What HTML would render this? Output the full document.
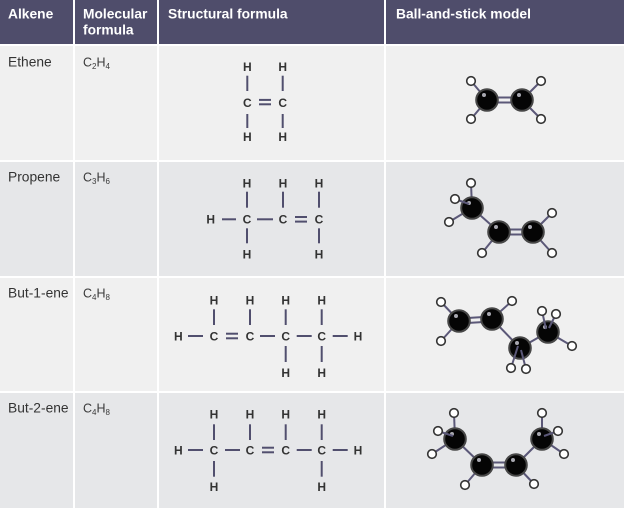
<!DOCTYPE html>
<html><head><meta charset="utf-8"><style>
html,body{margin:0;padding:0;background:#fff;}
svg{display:block;}
.hd{font-family:"Liberation Sans",Arial,sans-serif;font-size:13.8px;font-weight:bold;fill:#fff;}
.bd{font-family:"Liberation Sans",Arial,sans-serif;font-size:13.8px;fill:#333;}
.fm{font-family:"Liberation Sans",Arial,sans-serif;font-size:12.5px;fill:#3a3a3a;}
.at{font-family:"Liberation Sans",Arial,sans-serif;font-size:12px;font-weight:bold;fill:#333;text-anchor:middle;}
.sb line{stroke:#514f6e;stroke-width:2;}
.mb line{stroke:#5b5878;stroke-width:2;}
.c{fill:#050505;stroke:#474747;stroke-width:2;}
.hl{fill:#a8a8b0;}
.h{fill:#fff;stroke:#333;stroke-width:1.6;}
</style></head><body>
<svg width="624" height="508" viewBox="0 0 624 508" xmlns="http://www.w3.org/2000/svg">
<rect x="0" y="0" width="624" height="508" fill="#fff"/>
<!-- header -->
<g fill="#4f4d6b">
<rect x="0" y="0" width="73" height="44"/>
<rect x="75" y="0" width="82" height="44"/>
<rect x="159" y="0" width="225" height="44"/>
<rect x="386" y="0" width="238" height="44"/>
</g>
<!-- rows -->
<g fill="#f0f0f0">
<rect x="0" y="46" width="73" height="114"/><rect x="75" y="46" width="82" height="114"/><rect x="159" y="46" width="225" height="114"/><rect x="386" y="46" width="238" height="114"/>
<rect x="0" y="278" width="73" height="113"/><rect x="75" y="278" width="82" height="113"/><rect x="159" y="278" width="225" height="113"/><rect x="386" y="278" width="238" height="113"/>
</g>
<g fill="#e6e7e9">
<rect x="0" y="162" width="73" height="114"/><rect x="75" y="162" width="82" height="114"/><rect x="159" y="162" width="225" height="114"/><rect x="386" y="162" width="238" height="114"/>
<rect x="0" y="393" width="73" height="115"/><rect x="75" y="393" width="82" height="115"/><rect x="159" y="393" width="225" height="115"/><rect x="386" y="393" width="238" height="115"/>
</g>

<!-- header text -->
<text class="hd" x="8" y="18.5">Alkene</text>
<text class="hd" x="83" y="18.5">Molecular</text>
<text class="hd" x="83" y="34.5">formula</text>
<text class="hd" x="168" y="18.5">Structural formula</text>
<text class="hd" x="396" y="18.5">Ball-and-stick model</text>

<!-- names -->
<text class="bd" x="8" y="66.5">Ethene</text>
<text class="bd" x="8" y="181.5">Propene</text>
<text class="bd" x="8" y="297.5">But-1-ene</text>
<text class="bd" x="8" y="412.5">But-2-ene</text>

<!-- molecular formulas -->
<text class="fm" x="83" y="66.5">C<tspan font-size="8" dy="2.5">2</tspan><tspan dy="-2.5">H</tspan><tspan font-size="8" dy="2.5">4</tspan></text>
<text class="fm" x="83" y="181.5">C<tspan font-size="8" dy="2.5">3</tspan><tspan dy="-2.5">H</tspan><tspan font-size="8" dy="2.5">6</tspan></text>
<text class="fm" x="83" y="297.5">C<tspan font-size="8" dy="2.5">4</tspan><tspan dy="-2.5">H</tspan><tspan font-size="8" dy="2.5">8</tspan></text>
<text class="fm" x="83" y="412.5">C<tspan font-size="8" dy="2.5">4</tspan><tspan dy="-2.5">H</tspan><tspan font-size="8" dy="2.5">8</tspan></text>

<!-- Ethene structural -->
<g class="sb">
<line x1="247.3" y1="75.7" x2="247.3" y2="91"/><line x1="282.7" y1="75.7" x2="282.7" y2="91"/>
<line x1="247.3" y1="114" x2="247.3" y2="128"/><line x1="282.7" y1="114" x2="282.7" y2="128"/>
<line x1="259" y1="99.9" x2="271" y2="99.9"/><line x1="259" y1="104.3" x2="271" y2="104.3"/>
</g>
<text class="at" x="247.3" y="71">H</text><text class="at" x="282.7" y="71">H</text>
<text class="at" x="247.3" y="106.8">C</text><text class="at" x="282.7" y="106.8">C</text>
<text class="at" x="247.3" y="141">H</text><text class="at" x="282.7" y="141">H</text>

<!-- Propene structural -->
<g class="sb">
<line x1="247" y1="191.7" x2="247" y2="207.7"/><line x1="283" y1="191.7" x2="283" y2="207.7"/><line x1="319" y1="191.7" x2="319" y2="207.7"/>
<line x1="247" y1="228.3" x2="247" y2="243.3"/><line x1="319" y1="228.3" x2="319" y2="243.3"/>
<line x1="222" y1="219.3" x2="236" y2="219.3"/><line x1="257" y1="219.3" x2="273" y2="219.3"/>
<line x1="295" y1="217" x2="307" y2="217"/><line x1="295" y1="221.6" x2="307" y2="221.6"/>
</g>
<text class="at" x="247" y="187.6">H</text><text class="at" x="283" y="187.6">H</text><text class="at" x="319" y="187.6">H</text>
<text class="at" x="210.7" y="223.6">H</text><text class="at" x="247" y="223.6">C</text><text class="at" x="283" y="223.6">C</text><text class="at" x="319" y="223.6">C</text>
<text class="at" x="247" y="258.6">H</text><text class="at" x="319" y="258.6">H</text>

<!-- But-1-ene structural -->
<g class="sb">
<line x1="214" y1="309.3" x2="214" y2="325"/><line x1="250" y1="309.3" x2="250" y2="325"/><line x1="285.7" y1="309.3" x2="285.7" y2="325"/><line x1="321.7" y1="309.3" x2="321.7" y2="325"/>
<line x1="285.7" y1="346" x2="285.7" y2="362"/><line x1="321.7" y1="346" x2="321.7" y2="362"/>
<line x1="188" y1="336" x2="203" y2="336"/>
<line x1="226" y1="333.7" x2="238" y2="333.7"/><line x1="226" y1="338.3" x2="238" y2="338.3"/>
<line x1="260" y1="336" x2="275" y2="336"/><line x1="296.7" y1="336" x2="311.7" y2="336"/><line x1="332.7" y1="336" x2="347.7" y2="336"/>
</g>
<text class="at" x="214" y="304.3">H</text><text class="at" x="250" y="304.3">H</text><text class="at" x="285.7" y="304.3">H</text><text class="at" x="321.7" y="304.3">H</text>
<text class="at" x="178.3" y="340.3">H</text><text class="at" x="214" y="340.3">C</text><text class="at" x="250" y="340.3">C</text><text class="at" x="285.7" y="340.3">C</text><text class="at" x="321.7" y="340.3">C</text><text class="at" x="358" y="340.3">H</text>
<text class="at" x="285.7" y="377">H</text><text class="at" x="321.7" y="377">H</text>

<!-- But-2-ene structural -->
<g class="sb">
<line x1="214" y1="424.3" x2="214" y2="440"/><line x1="250" y1="424.3" x2="250" y2="440"/><line x1="285.7" y1="424.3" x2="285.7" y2="440"/><line x1="321.7" y1="424.3" x2="321.7" y2="440"/>
<line x1="214" y1="461" x2="214" y2="476.7"/><line x1="321.7" y1="461" x2="321.7" y2="476.7"/>
<line x1="188" y1="450" x2="203" y2="450"/><line x1="225" y1="450" x2="240" y2="450"/>
<line x1="262" y1="447.7" x2="274" y2="447.7"/><line x1="262" y1="452.3" x2="274" y2="452.3"/>
<line x1="296.7" y1="450" x2="311.7" y2="450"/><line x1="332.7" y1="450" x2="347.7" y2="450"/>
</g>
<text class="at" x="214" y="418.6">H</text><text class="at" x="250" y="418.6">H</text><text class="at" x="285.7" y="418.6">H</text><text class="at" x="321.7" y="418.6">H</text>
<text class="at" x="178.3" y="454.3">H</text><text class="at" x="214" y="454.3">C</text><text class="at" x="250" y="454.3">C</text><text class="at" x="285.7" y="454.3">C</text><text class="at" x="321.7" y="454.3">C</text><text class="at" x="358" y="454.3">H</text>
<text class="at" x="214" y="491">H</text><text class="at" x="321.7" y="491">H</text>

<!-- Ethene ball-and-stick -->
<g class="mb">
<line x1="487" y1="100" x2="471" y2="81"/><line x1="487" y1="100" x2="471" y2="119"/>
<line x1="522" y1="100" x2="541" y2="81"/><line x1="522" y1="100" x2="541" y2="119"/>
<line x1="487" y1="97.5" x2="522" y2="97.5"/><line x1="487" y1="102.5" x2="522" y2="102.5"/>
</g>
<circle class="c" cx="487" cy="100" r="10.8"/><circle class="c" cx="522" cy="100" r="10.8"/>
<circle class="hl" cx="484" cy="95" r="2"/><circle class="hl" cx="519" cy="95" r="2"/>
<circle class="h" cx="471" cy="81" r="4.3"/><circle class="h" cx="471" cy="119" r="4.3"/>
<circle class="h" cx="541" cy="81" r="4.3"/><circle class="h" cx="541" cy="119" r="4.3"/>

<!-- Propene ball-and-stick -->
<g class="mb">
<line x1="472" y1="208" x2="471" y2="183"/><line x1="472" y1="208" x2="449" y2="222"/>
<line x1="472" y1="208" x2="499" y2="232"/>
<line x1="499" y1="232" x2="482" y2="253"/>
<line x1="499" y1="229.5" x2="533" y2="229.5"/><line x1="499" y1="234.5" x2="533" y2="234.5"/>
<line x1="533" y1="232" x2="552" y2="213"/><line x1="533" y1="232" x2="552" y2="253"/>
</g>
<circle class="c" cx="472" cy="208" r="10.8"/><circle class="c" cx="499" cy="232" r="10.8"/><circle class="c" cx="533" cy="232" r="10.8"/>
<circle class="hl" cx="469" cy="203" r="2"/><circle class="hl" cx="496" cy="227" r="2"/><circle class="hl" cx="530" cy="227" r="2"/>
<g class="mb"><line x1="469" y1="204" x2="455" y2="199"/></g>
<circle class="h" cx="471" cy="183" r="4.3"/><circle class="h" cx="455" cy="199" r="4.3"/><circle class="h" cx="449" cy="222" r="4.3"/>
<circle class="h" cx="482" cy="253" r="4.3"/><circle class="h" cx="552" cy="213" r="4.3"/><circle class="h" cx="552" cy="253" r="4.3"/>

<!-- But-1-ene ball-and-stick -->
<g class="mb">
<line x1="459" y1="321" x2="441" y2="302"/><line x1="459" y1="321" x2="441" y2="341"/>
<line x1="459" y1="318.5" x2="492" y2="316.5"/><line x1="459" y1="323.5" x2="492" y2="321.5"/>
<line x1="492" y1="319" x2="512" y2="301"/>
<line x1="492" y1="319" x2="520" y2="348"/>
<line x1="520" y1="348" x2="548" y2="332"/>
<line x1="548" y1="332" x2="572" y2="346"/>
</g>
<circle class="c" cx="459" cy="321" r="10.8"/><circle class="c" cx="492" cy="319" r="10.8"/><circle class="c" cx="520" cy="348" r="10.8"/><circle class="c" cx="548" cy="332" r="10.8"/>
<circle class="hl" cx="456" cy="316" r="2"/><circle class="hl" cx="489" cy="314" r="2"/><circle class="hl" cx="517" cy="343" r="2"/><circle class="hl" cx="545" cy="327" r="2"/>
<g class="mb">
<line x1="518" y1="346" x2="511" y2="368"/><line x1="521" y1="350" x2="526" y2="369"/>
<line x1="546" y1="329" x2="542" y2="311"/><line x1="549" y1="328" x2="556" y2="314"/>
</g>
<circle class="h" cx="441" cy="302" r="4.3"/><circle class="h" cx="441" cy="341" r="4.3"/><circle class="h" cx="512" cy="301" r="4.3"/>
<circle class="h" cx="511" cy="368" r="4.3"/><circle class="h" cx="526" cy="369" r="4.3"/>
<circle class="h" cx="542" cy="311" r="4.3"/><circle class="h" cx="556" cy="314" r="4.3"/><circle class="h" cx="572" cy="346" r="4.3"/>

<!-- But-2-ene ball-and-stick -->
<g class="mb">
<line x1="455" y1="439" x2="454" y2="413"/><line x1="455" y1="439" x2="432" y2="454"/>
<line x1="455" y1="439" x2="482" y2="465"/>
<line x1="482" y1="465" x2="465" y2="485"/>
<line x1="482" y1="462.5" x2="516" y2="462.5"/><line x1="482" y1="467.5" x2="516" y2="467.5"/>
<line x1="516" y1="465" x2="534" y2="484"/>
<line x1="516" y1="465" x2="542" y2="439"/>
<line x1="542" y1="439" x2="542" y2="413"/><line x1="542" y1="439" x2="564" y2="454"/>
</g>
<circle class="c" cx="455" cy="439" r="10.8"/><circle class="c" cx="482" cy="465" r="10.8"/><circle class="c" cx="516" cy="465" r="10.8"/><circle class="c" cx="542" cy="439" r="10.8"/>
<circle class="hl" cx="452" cy="434" r="2"/><circle class="hl" cx="479" cy="460" r="2"/><circle class="hl" cx="513" cy="460" r="2"/><circle class="hl" cx="539" cy="434" r="2"/>
<g class="mb">
<line x1="453" y1="436" x2="438" y2="431"/><line x1="544" y1="436" x2="558" y2="431"/>
</g>
<circle class="h" cx="454" cy="413" r="4.3"/><circle class="h" cx="438" cy="431" r="4.3"/><circle class="h" cx="432" cy="454" r="4.3"/>
<circle class="h" cx="465" cy="485" r="4.3"/><circle class="h" cx="534" cy="484" r="4.3"/>
<circle class="h" cx="542" cy="413" r="4.3"/><circle class="h" cx="558" cy="431" r="4.3"/><circle class="h" cx="564" cy="454" r="4.3"/>
</svg>
</body></html>
